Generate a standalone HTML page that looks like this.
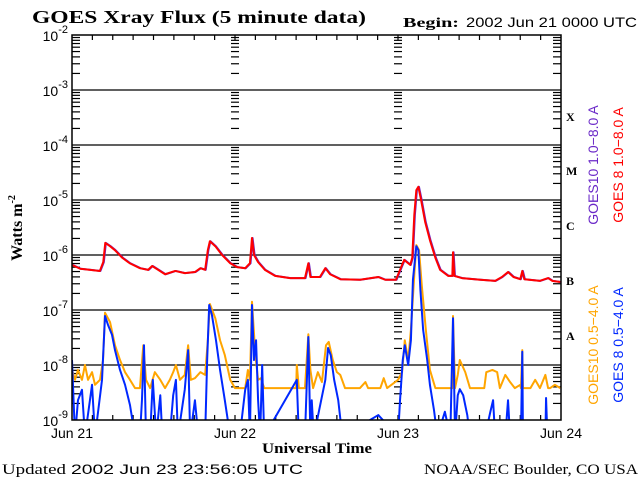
<!DOCTYPE html>
<html><head><meta charset="utf-8"><style>
body{margin:0;background:#fff;}
svg{display:block;}
.serif{font-family:"Liberation Serif",serif;font-weight:bold;}
.sans{font-family:"Liberation Sans",sans-serif;}
</style></head><body>
<svg id="chart" width="640" height="480" viewBox="0 0 640 480">
<rect width="640" height="480" fill="#fff"/>
<text class="serif" x="32" y="23" font-size="18" textLength="334" lengthAdjust="spacingAndGlyphs">GOES Xray Flux (5 minute data)</text>
<text class="serif" x="403" y="27" font-size="14" textLength="56" lengthAdjust="spacingAndGlyphs">Begin:</text>
<text class="sans" x="466" y="27" font-size="14" textLength="171" lengthAdjust="spacingAndGlyphs">2002 Jun 21 0000 UTC</text>
<g id="grid"></g>
<g id="ticks"></g>
<g id="series"></g>
<rect x="72" y="35" width="489" height="385" fill="none" stroke="#000" stroke-width="1.5"/>
<g id="ylabels"></g>
<g id="xlabels"></g>
<text class="serif" transform="translate(22,228) rotate(-90)" text-anchor="middle" font-size="16">Watts m<tspan font-size="10" dy="-7">-2</tspan></text>
<text class="serif" x="262" y="453" font-size="15" textLength="110" lengthAdjust="spacingAndGlyphs">Universal Time</text>
<text class="serif" x="2" y="474" font-size="15" style="font-weight:normal" textLength="64" lengthAdjust="spacingAndGlyphs">Updated</text>
<text class="sans" x="71" y="474" font-size="14" textLength="232" lengthAdjust="spacingAndGlyphs">2002 Jun 23 23:56:05 UTC</text>
<text class="serif" x="424" y="474" font-size="15" style="font-weight:normal" textLength="214" lengthAdjust="spacingAndGlyphs">NOAA/SEC Boulder, CO USA</text>
<g class="serif" font-size="12">
<text x="566" y="121">X</text>
<text x="566" y="175">M</text>
<text x="566" y="230">C</text>
<text x="566" y="285">B</text>
<text x="566" y="340">A</text>
</g>
<g class="sans" font-size="14" text-anchor="middle">
<text transform="translate(598,165) rotate(-90)" fill="#6a28c8">GOES10 1.0−8.0 A</text>
<text transform="translate(623,165) rotate(-90)" fill="#ff0000">GOES 8 1.0−8.0 A</text>
<text transform="translate(598,345) rotate(-90)" fill="#ffa500">GOES10 0.5−4.0 A</text>
<text transform="translate(623,345) rotate(-90)" fill="#0028ff">GOES 8 0.5−4.0 A</text>
</g>
</svg>
<script>
const dayLabels=["Jun 21","Jun 22","Jun 23","Jun 24"];
const decades=[-2,-3,-4,-5,-6,-7,-8,-9];
const longHours=[0,1.2,2.7,4.1,4.6,4.9,5.6,6.3,7.4,8.5,10,11.2,11.8,12.7,13.7,15.2,16.6,18.1,18.9,19.6,20,20.3,21.1,22.1,23.3,24.3,25.5,26.2,26.5,26.8,27.4,28.4,29.9,32.1,34.3,34.8,35.1,36.5,37.3,38,39.5,42.4,45.1,46.1,47.7,48.3,48.9,49.8,50.1,50.4,50.7,51,51.4,52,52.7,53.5,54.2,55.4,56,56.1,56.3,57.4,60.1,62.3,63.3,64.2,65,66,66.3,66.6,68.9,70.1,70.7,71.9];
const longFlux=[-6.18,-6.25,-6.27,-6.29,-6.13,-5.78,-5.84,-5.91,-6.05,-6.15,-6.24,-6.27,-6.2,-6.27,-6.35,-6.29,-6.33,-6.31,-6.24,-6.27,-5.91,-5.75,-5.84,-6.0,-6.15,-6.22,-6.24,-6.15,-5.69,-6.0,-6.13,-6.27,-6.38,-6.42,-6.42,-6.15,-6.4,-6.4,-6.24,-6.35,-6.44,-6.45,-6.4,-6.45,-6.45,-6.27,-6.09,-6.18,-6.05,-5.27,-4.82,-4.76,-5.0,-5.4,-5.73,-6.05,-6.27,-6.38,-6.38,-5.95,-6.38,-6.42,-6.45,-6.47,-6.4,-6.31,-6.4,-6.44,-6.29,-6.44,-6.47,-6.42,-6.47,-6.49];
const short8Hours=[0,0.44,0.88,1.47,1.91,2.95,3.39,4.42,4.86,5.3,5.89,6.33,7.07,7.81,8.54,9.28,10,10.3,10.6,10.9,11.5,11.9,12.4,13,13.3,14.4,14.9,15.3,15.6,16.6,17.1,17.4,18.1,18.6,19.6,19.9,20.2,20.6,21.2,21.8,22.5,23.3,24.7,25.5,25.9,26.2,26.5,26.8,27.1,27.4,27.7,28,28.3,33.1,33.4,34.3,34.8,35.1,35.3,35.6,37.3,37.7,38.1,38.6,39.2,39.8,45.1,48,48.3,48.7,49,49.5,49.9,50.2,50.7,51,51.3,51.7,52.3,52.7,53.3,53.8,54.9,55.7,56.1,56.4,56.8,57.1,57.6,58.2,58.6,60.8,61.6,62,62.3,63.8,64.2,64.5,66.1,66.3,66.4,69.7,69.8,70,71.9];
const short8Flux=[-7.91,-9.3,-8.64,-8.45,-9.3,-8.36,-9.3,-8.27,-7.11,-7.27,-7.45,-7.73,-8.09,-8.36,-8.73,-9.3,-9.3,-8.64,-7.64,-9.3,-9.3,-8.27,-9.3,-8.55,-9.3,-9.3,-8.55,-8.27,-9.3,-8.45,-7.73,-9.3,-8.64,-9.3,-9.3,-7.91,-6.91,-7.09,-7.55,-8.09,-8.64,-9.3,-9.3,-8.45,-8.27,-9.3,-6.91,-7.91,-7.55,-8.64,-9.3,-8.0,-9.3,-8.27,-9.3,-9.3,-7.49,-9.3,-8.64,-9.3,-8.27,-7.69,-7.82,-8.27,-8.64,-9.3,-8.91,-9.3,-8.64,-7.91,-7.64,-8.0,-7.55,-6.45,-5.84,-5.91,-6.64,-7.36,-7.91,-8.36,-8.82,-9.3,-8.85,-9.3,-7.15,-9.3,-8.55,-8.44,-8.55,-8.91,-9.3,-9.3,-8.85,-8.64,-9.3,-9.3,-8.64,-9.3,-9.3,-7.76,-9.3,-9.3,-8.6,-9.3,-9.3];
const short10Hours=[0,0.44,0.88,1.47,1.91,2.36,2.95,3.39,4.12,4.57,4.86,5.6,6.33,7.07,7.81,8.54,9.28,10,10.5,10.9,11.5,12.2,13,13.7,14.4,14.9,15.3,15.9,16.6,17.1,17.5,18.1,18.9,19.6,20,20.3,21.1,21.8,22.5,23.3,24,24.7,25.5,25.9,26.2,26.5,27,27.4,27.8,28.3,32.1,33,33.1,33.4,34.3,34.8,35.1,35.5,36.2,36.8,37.4,37.8,38.4,39,39.5,40.2,42.4,43.2,43.6,45.4,45.9,46.4,48,48.6,49,49.5,49.9,50.4,50.7,51.1,51.5,52.1,52.7,53.5,56,56.1,56.4,56.8,57.1,57.9,58.6,60.7,61,61.9,62.6,63,63.8,64.5,65.2,66,66.1,66.3,66.4,67.5,68.2,68.9,69.7,70.1,70.4,71.1,71.9];
const short10Flux=[-8.09,-8.27,-8.09,-8.27,-8.0,-8.27,-8.13,-8.36,-8.27,-7.91,-7.05,-7.22,-7.64,-7.91,-8.13,-8.27,-8.42,-8.42,-7.64,-8.27,-8.42,-8.13,-8.27,-8.42,-8.27,-8.13,-8.0,-8.27,-8.18,-7.64,-8.27,-8.24,-8.13,-8.18,-7.55,-6.89,-7.15,-7.55,-7.82,-8.27,-8.42,-8.42,-8.42,-8.09,-8.27,-6.85,-7.82,-8.27,-8.24,-8.42,-8.42,-8.42,-8.0,-8.42,-8.42,-7.44,-8.09,-8.42,-8.13,-8.31,-7.64,-7.58,-7.91,-8.13,-8.18,-8.42,-8.42,-8.31,-8.42,-8.42,-8.24,-8.42,-8.27,-8.13,-7.55,-7.91,-7.36,-6.36,-5.82,-5.91,-6.55,-7.36,-8.09,-8.42,-8.42,-7.11,-8.42,-8.18,-7.91,-8.13,-8.42,-8.42,-8.13,-8.09,-8.13,-8.42,-8.18,-8.31,-8.42,-8.36,-8.42,-7.73,-8.42,-8.42,-8.27,-8.42,-8.18,-8.42,-8.42,-8.36,-8.42];

const NS="http://www.w3.org/2000/svg";
const X0=72,X1=561,Y0=35,Y1=420,HOURS=72,LTOP=-2,LBOT=-9;
function xs(h){return X0+(X1-X0)*h/HOURS;}
function ys(l){return Y0+(Y1-Y0)*(LTOP-l)/(LTOP-LBOT);}
function mk(tag,parent){const e=document.createElementNS(NS,tag);document.getElementById(parent).appendChild(e);return e;}

decades.forEach(d=>{
  if(d===LTOP||d===LBOT)return;
  const l=mk('line','grid');
  
  
  l.setAttribute('x1',X0);l.setAttribute('x2',X1);l.setAttribute('y1',ys(d));l.setAttribute('y2',ys(d));
  l.setAttribute('stroke','#000');l.setAttribute('stroke-width','1.3');
});
const tickXs=[X0,xs(24),xs(48),X1];
decades.forEach(d=>{
  if(d===LBOT)return;
  for(let m=2;m<=9;m++){
    const y=ys(d-1+Math.log10(m));
    tickXs.forEach((tx,i)=>{
      const len=(i===3)?-8:8;
      const t=mk('line','ticks');
      
      
      const x1=(i===1||i===2)?tx-4:tx;
      const x2=(i===1||i===2)?tx+4:tx+len;
      t.setAttribute('x1',x1);t.setAttribute('x2',x2);t.setAttribute('y1',y);t.setAttribute('y2',y);
      t.setAttribute('stroke','#000');t.setAttribute('stroke-width','1.2');
    });
  }
});
for(let h=3;h<HOURS;h+=3){
  [[Y0,Y0+5],[Y1,Y1-5]].forEach(p=>{
    const t=mk('line','ticks');
    
    
    t.setAttribute('x1',xs(h));t.setAttribute('x2',xs(h));t.setAttribute('y1',p[0]);t.setAttribute('y2',p[1]);
    t.setAttribute('stroke','#000');t.setAttribute('stroke-width','1.2');
  });
}
decades.forEach(d=>{
  const t=mk('text','ylabels');
  
  
  t.setAttribute('x',X0-4);t.setAttribute('y',ys(d)+6);t.setAttribute('text-anchor','end');
  t.setAttribute('class','sans');t.setAttribute('font-size','14');
  t.innerHTML='10<tspan font-size="11" dy="-8">'+d+'</tspan>';
});
dayLabels.forEach((s,i)=>{
  const t=mk('text','xlabels');
  
  
  t.setAttribute('x',xs(i*24));t.setAttribute('y',438);t.setAttribute('text-anchor','middle');
  t.setAttribute('class','sans');t.setAttribute('font-size','14');
  t.textContent=s;
});
const defs=mk('defs','chart');
defs.innerHTML='<clipPath id="pc"><rect x="72" y="35" width="489" height="385"/></clipPath>';
document.getElementById('series').setAttribute('clip-path','url(#pc)');
function drawSeries(hours,flux,color,w,dx,name){
  const p=mk('polyline','series');
  
  
  p.setAttribute('points',hours.map((h,i)=>(xs(h)+dx)+','+ys(flux[i])).join(' '));
  p.setAttribute('fill','none');p.setAttribute('stroke',color);p.setAttribute('stroke-width',w);
  p.setAttribute('stroke-linejoin','round');
}
drawSeries(short10Hours,short10Flux,'#ffa500',2,0,'series-goes10-short');
drawSeries(short8Hours,short8Flux,'#0028ff',2,0,'series-goes8-short');
drawSeries(longHours,longFlux,'#6a28c8',2,0.6,'series-goes10-long');
drawSeries(longHours,longFlux,'#ff0000',2,0,'series-goes8-long');
</script>
</body></html>
